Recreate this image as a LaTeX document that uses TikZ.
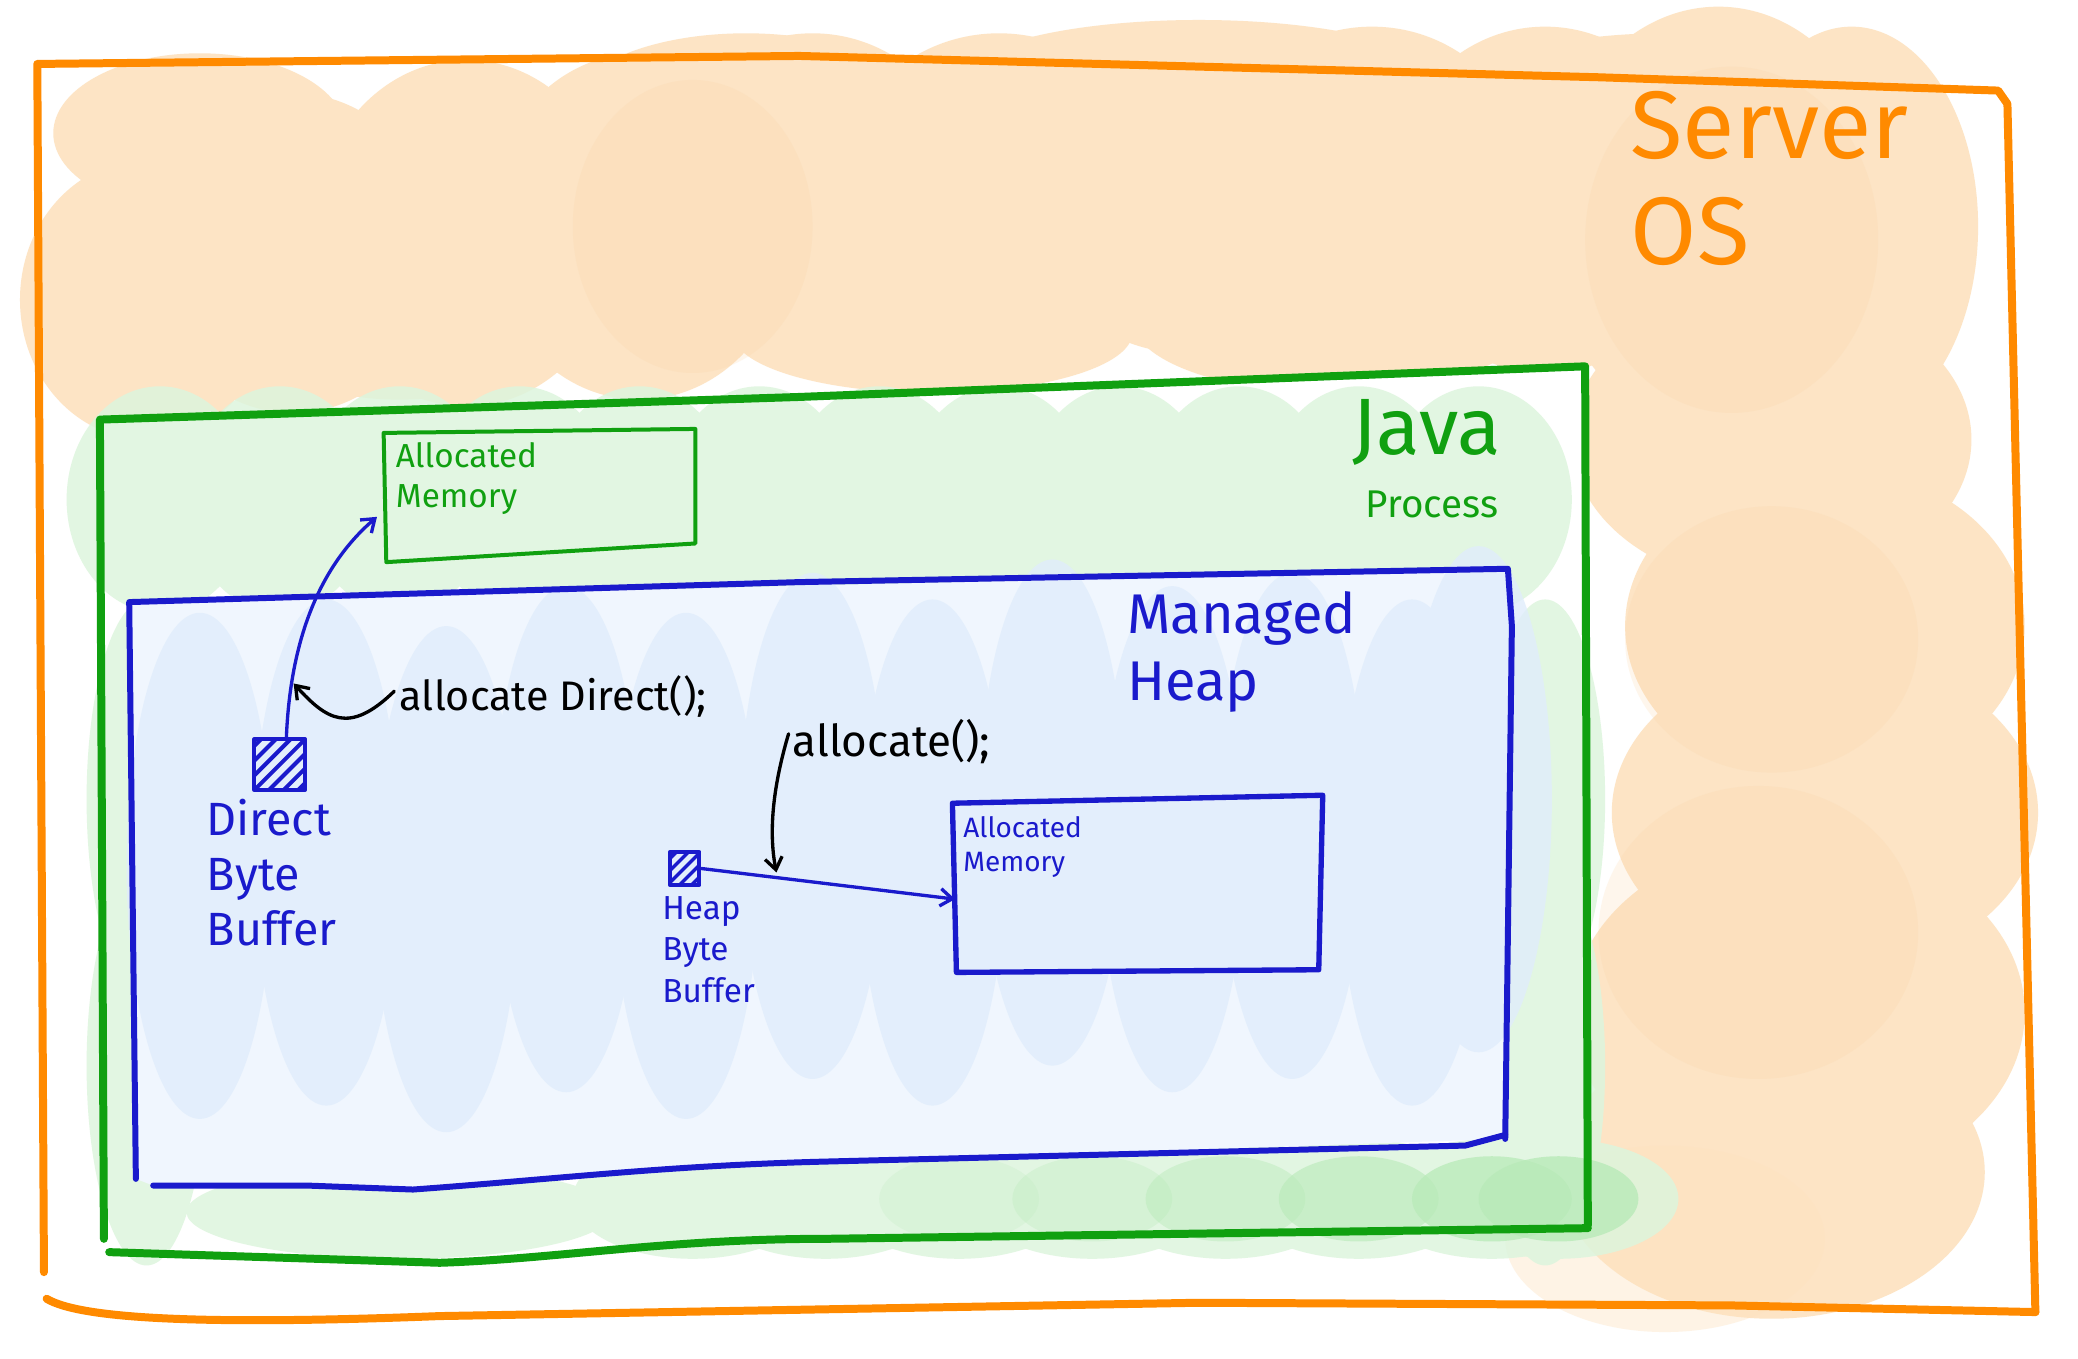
\documentclass[tikz,border=0pt]{standalone}
\usepackage{fontspec}
\setmainfont{Fira Sans}
\usetikzlibrary{arrows.meta}
\definecolor{oline}{HTML}{FF8A00}
\definecolor{ofill}{HTML}{FDE2BF}
\definecolor{ofilldeep}{HTML}{FBD3A3}
\definecolor{gline}{HTML}{10A010}
\definecolor{gfill}{HTML}{DDF5DD}
\definecolor{gfilldeep}{HTML}{B8EAB8}
\definecolor{bline}{HTML}{1A1ACC}
\definecolor{bfill}{HTML}{E0EDFC}
\definecolor{bpale}{HTML}{F0F6FE}
\begin{document}
\begin{tikzpicture}[x=1pt,y=-1pt,line join=round,line cap=round,
  oblob/.style={fill=ofill,draw=none},
  odeep/.style={fill=ofilldeep,fill opacity=0.2,draw=none},
  gblob/.style={fill=gfill,draw=none},
  gdeep/.style={fill=gfilldeep,draw=none},
  bblob/.style={fill=bfill,draw=none},
  oframe/.style={draw=oline,line width=6},
  gframe/.style={draw=gline,line width=6},
  bframe/.style={draw=bline,line width=4.5},
  gsmall/.style={draw=gline,line width=3},
  bsmall/.style={draw=bline,line width=4},
  barrow/.style={draw=bline,line width=2.5,-{Straight Barb[length=9,width=13,line width=2.5]}},
  karrow/.style={draw=black,line width=2.5,-{Straight Barb[length=9,width=13,line width=2.5]}},
  lbl/.style={inner sep=0,anchor=north west,align=left},
  dsq/.style={draw=bline,line width=3,minimum size=38,inner sep=0,
    path picture={\foreach \k in {-44,-33,...,44}
      \draw[bline,line width=3] ([xshift=\k]path picture bounding box.south west) -- ++(44,-44);}},
  hsq/.style={draw=bline,line width=3,minimum width=22,minimum height=25,inner sep=0,
    path picture={\foreach \k in {-20,-11,...,20}
      \draw[bline,line width=2.5] ([xshift=\k]path picture bounding box.south west) -- ++(28,-28);}}
]
\useasboundingbox (0,0) rectangle (1560,1019.5);
\fill[white] (0,0) rectangle (1560,1019.5);

% ---------- orange blobs (Server OS) ----------
\begin{scope}[transparency group,opacity=0.9]
\foreach \cx/\cy/\rx/\ry in {
  110/225/95/105, 220/190/110/120, 350/175/115/130, 480/170/115/130,
  610/150/120/125, 750/150/125/125, 890/145/120/120, 1030/140/120/120,
  1160/150/120/130, 1290/165/130/160, 1390/170/95/150,
  150/100/110/60, 560/80/130/55, 900/60/180/45, 1250/70/150/45,
  300/250/110/50, 700/250/150/45, 1000/240/150/55,
  1330/330/150/110, 1370/470/150/120, 1370/610/160/120,
  1350/760/170/130, 1330/880/160/110}
  \fill[oblob] (\cx,\cy) ellipse [x radius=\rx,y radius=\ry];
\end{scope}
\foreach \cx/\cy/\rx/\ry in {520/170/90/110, 1300/180/110/130, 1330/480/110/100, 1320/700/120/110}
  \fill[odeep] (\cx,\cy) ellipse [x radius=\rx,y radius=\ry];
\fill[ofill,fill opacity=0.4] (1250,930) ellipse [x radius=120,y radius=70];

% ---------- green blobs (Java Process) ----------
\fill[white] (75,315) -- (1190,275) -- (1192,925) -- (82,940) -- cycle;
\begin{scope}[transparency group,opacity=0.85]
\foreach \cx in {120,210,300,390,480,570,660,750,840,930,1020,1110}
  \fill[gblob] (\cx,375) ellipse [x radius=70,y radius=85];
\foreach \cx/\cy in {110/600,110/800,1160/600,1160/800}
  \fill[gblob] (\cx,\cy) ellipse [x radius=45,y radius=150];
\fill[gblob] (300,910) ellipse [x radius=160,y radius=35];
\foreach \cx in {520,620,720,820,920,1020,1120,1170}
  \fill[gblob] (\cx,900) ellipse [x radius=90,y radius=45];
\end{scope}
\foreach \cx/\o in {720/0.2,820/0.3,920/0.45,1020/0.6,1120/0.75,1170/0.8}
  \fill[gdeep,fill opacity=\o] (\cx,900) ellipse [x radius=60,y radius=32];

% ---------- blue blobs (Managed Heap) ----------
\fill[bpale] (97,452) -- (1132,427) -- (1135,470) -- (1130,855) -- (600,873) -- (310,893) -- (115,890) -- (102,885) -- cycle;
\begin{scope}[transparency group,opacity=0.8]
\foreach \cx/\cy in {150/650,245/640,335/660,425/630,515/650,610/620,700/640,790/610,880/630,970/620,1060/640,1110/600}
  \fill[bblob] (\cx,\cy) ellipse [x radius=55,y radius=190];
\end{scope}

% ---------- frames ----------
\draw[oframe] (33,955) -- (28,48) -- (600,42) -- (1200,58) -- (1500,68) -- (1507,78) -- (1528,985);
\draw[oframe] (35,975) .. controls (60,990) and (150,995) .. (330,988) -- (900,978) -- (1300,980) -- (1528,985);

\draw[gframe] (78,930) -- (75,315) -- (600,298) -- (1190,275) -- (1192,920);
\draw[gframe] (82,940) -- (330,948) .. controls (420,945) and (500,930) .. (620,930) -- (1192,922);

\draw[bframe] (102,885) -- (97,452) -- (600,437) -- (1132,427) -- (1135,470) -- (1130,855);
\draw[bframe] (115,890) -- (230,890) -- (310,893) .. controls (420,885) and (500,875) .. (620,872) -- (1100,860) -- (1130,852);

% ---------- small boxes ----------
\coordinate (gtl) at (288,325);
\coordinate (gtr) at (522,322);
\coordinate (gbr) at (522,408);
\coordinate (gbl) at (290,422);
\draw[gsmall] (gtl) -- (gtr) -- (gbr) -- (gbl) -- cycle;
\coordinate (gin) at (283,388);

\coordinate (btl) at (715,603);
\coordinate (btr) at (993,597);
\coordinate (bbr) at (990,728);
\coordinate (bbl) at (718,730);
\draw[bsmall] (btl) -- (btr) -- (bbr) -- (bbl) -- cycle;
\coordinate (bin) at (717,675);

% ---------- texts ----------
\node[lbl,text=oline,font=\fontsize{72}{80}\selectfont] (srv) at (1224,68) {Server\\OS};
\node[lbl,text=gline,font=\fontsize{60}{60}\selectfont] (java) at (1015,300) {Java};
\node[lbl,text=gline,font=\fontsize{29}{30}\selectfont] (proc) at (1025,368) {Process};
\node[lbl,text=bline,font=\fontsize{42}{50}\selectfont] (mh) at (846,444) {Managed\\Heap};
\node[lbl,text=gline,font=\fontsize{25}{30}\selectfont] (amg) at (297,332) {Allocated\\Memory};
\node[lbl,text=bline,font=\fontsize{21}{25}\selectfont] (amb) at (723,613) {Allocated\\Memory};
\node[lbl,text=bline,font=\fontsize{35}{41}\selectfont] (dbt) at (155,600) {Direct\\Byte\\Buffer};
\node[lbl,text=bline,font=\fontsize{25}{31}\selectfont] (hbt) at (497,673) {Heap\\Byte\\Buffer};
\node[lbl,text=black,font=\fontsize{31}{32}\selectfont] (lblD) at (300,507) {allocate Direct();};
\node[lbl,text=black,font=\fontsize{33}{34}\selectfont] (lblA) at (595,540) {allocate();};

% ---------- buffers ----------
\node[dsq] (dbb) at (210,574) {};
\node[hsq] (hbb) at (514,652) {};

% ---------- connectors ----------
\draw[barrow] ([xshift=5]dbb.north) .. controls (218,480) and (240,425) .. coordinate[pos=0.2] (onD) (gin);
\draw[barrow] (hbb.east) -- coordinate[pos=0.3] (onH) (bin);
\draw[karrow,shorten >=2] ([xshift=-4,yshift=4]lblD.west) .. controls (262,552) and (245,540) .. (onD);
\draw[karrow,shorten >=4] ([xshift=-3,yshift=6]lblA.west) .. controls (578,598) and (578,630) .. (onH);
\end{tikzpicture}
\end{document}
